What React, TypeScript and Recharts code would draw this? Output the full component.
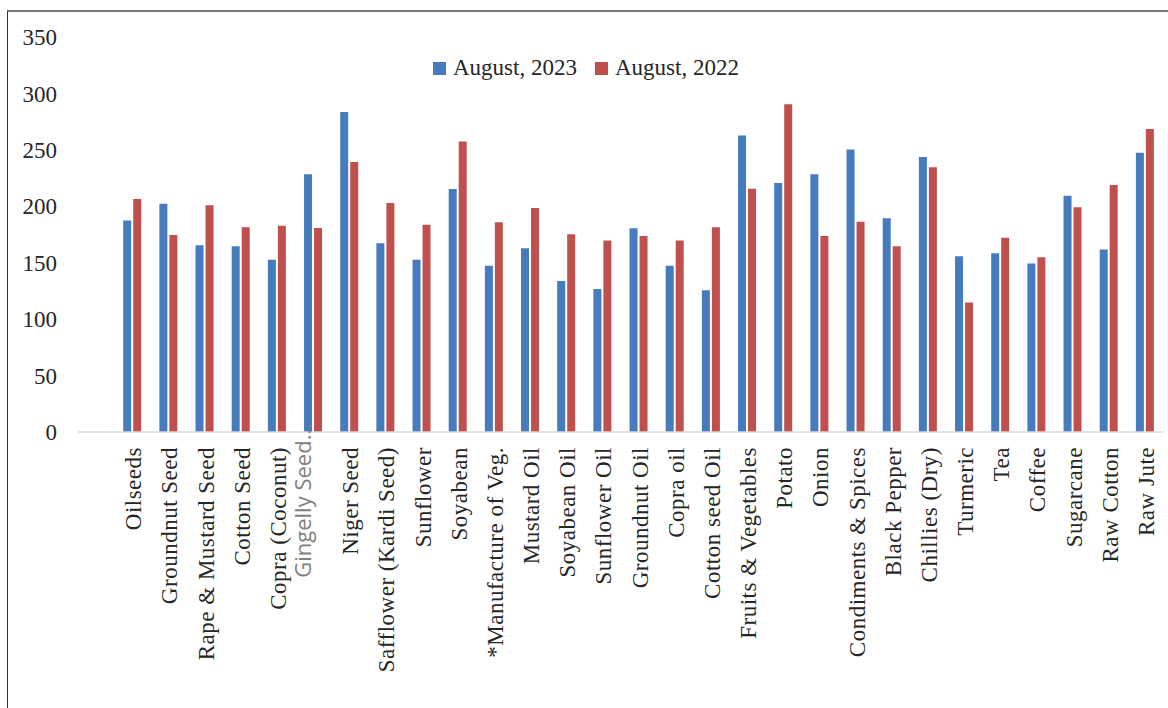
import { Bar, BarChart, XAxis, YAxis } from "recharts"

const categories = [
  "",
  "Oilseeds",
  "Groundnut Seed",
  "Rape & Mustard Seed",
  "Cotton Seed",
  "Copra (Coconut)",
  "Gingelly Seed...",
  "Niger Seed",
  "Safflower (Kardi Seed)",
  "Sunflower",
  "Soyabean",
  "*Manufacture of Veg.",
  "Mustard Oil",
  "Soyabean Oil",
  "Sunflower Oil",
  "Groundnut Oil",
  "Copra oil",
  "Cotton seed Oil",
  "Fruits & Vegetables",
  "Potato",
  "Onion",
  "Condiments & Spices",
  "Black Pepper",
  "Chillies (Dry)",
  "Turmeric",
  "Tea",
  "Coffee",
  "Sugarcane",
  "Raw Cotton",
  "Raw Jute",
]

const aug2023 = [
  null, 187.3, 202.3, 165.5, 164.6, 152.7, 228.3, 283.5, 167.3, 152.7, 215.3, 147.2, 162.8, 133.9, 126.8,
  180.5, 147.2, 125.7, 262.8, 220.6, 228.3, 250.4, 189.4, 243.6, 155.8, 158.4, 149.2, 209.4, 161.6, 247.4,
]

const aug2022 = [
  null, 206.5, 174.6, 200.9, 181.4, 182.8, 180.8, 239.2, 202.9, 183.7, 257.5, 185.8, 198.5, 175.2, 169.6,
  173.7, 169.6, 181.4, 215.6, 290.5, 173.7, 186.4, 164.6, 234.5, 114.7, 172.2, 154.9, 199.1, 218.8, 268.4,
]

const yTicks = [0, 50, 100, 150, 200, 250, 300, 350]

const series = [
  { key: "a2023", name: "August, 2023", color: "#467BBE" },
  { key: "a2022", name: "August, 2022", color: "#C0504D" },
]

const data = categories.map((name, i) => ({
  name,
  a2023: aug2023[i],
  a2022: aug2022[i],
}))

const serif = "'Palatino Linotype', 'Book Antiqua', Palatino, 'Liberation Serif', serif"
const textColor = "#262626"

function XTick({ x, y, payload }: any) {
  const label: string = payload.value
  if (!label) return null
  // the truncated label is drawn in a grey sans font, like in the source
  const muted = label.startsWith("Gingelly")
  const ty = muted ? y - 24 : y
  return (
    <text
      x={x}
      y={ty}
      dy={muted ? -2 : 9}
      transform={`rotate(-90, ${x}, ${ty})`}
      textAnchor="end"
      fontFamily={muted ? "'Open Sans', sans-serif" : serif}
      fontSize={muted ? 22 : 23}
      letterSpacing={muted ? 0 : 0.5}
      fill={muted ? "#808080" : textColor}
    >
      {label}
    </text>
  )
}

export default function App() {
  return (
    <div style={{ position: "absolute", left: 0, top: 0, width: 1168, height: 708, overflow: "hidden", background: "#fff" }}>
      <div
        style={{
          position: "absolute",
          left: 7,
          top: 10,
          width: 1200,
          height: 720,
          borderLeft: "1.5px solid #333333",
          borderTop: "2px solid #7a7a7a",
        }}
      />
      <div style={{ position: "absolute", left: 0, top: 0 }}>
        <BarChart
          width={1168}
          height={708}
          data={data}
          margin={{ top: 37, right: 5, bottom: 6, left: 0 }}
          barCategoryGap="25%"
          barGap={2}
        >
          <XAxis
            dataKey="name"
            interval={0}
            height={270}
            tickLine={false}
            tickMargin={9}
            axisLine={{ stroke: "#d9d9d9", strokeWidth: 1.5 }}
            tick={<XTick />}
          />
          <YAxis
            width={78}
            domain={[0, 350]}
            ticks={yTicks}
            axisLine={false}
            tickLine={false}
            tickMargin={15}
            tick={{ fill: textColor, fontSize: 23, fontFamily: serif }}
          />
          {series.map((s) => (
            <Bar key={s.key} dataKey={s.key} name={s.name} fill={s.color} isAnimationActive={false} />
          ))}
        </BarChart>
      </div>
      <div
        style={{
          position: "absolute",
          left: 433,
          top: 55,
          display: "flex",
          alignItems: "center",
          fontFamily: serif,
          fontSize: 23,
          lineHeight: "26px",
          color: textColor,
        }}
      >
        {series.map((s) => (
          <span key={s.key} style={{ display: "flex", alignItems: "center", marginRight: 18, whiteSpace: "nowrap" }}>
            <span style={{ width: 13, height: 13, background: s.color, marginRight: 7 }} />
            {s.name}
          </span>
        ))}
      </div>
    </div>
  )
}
